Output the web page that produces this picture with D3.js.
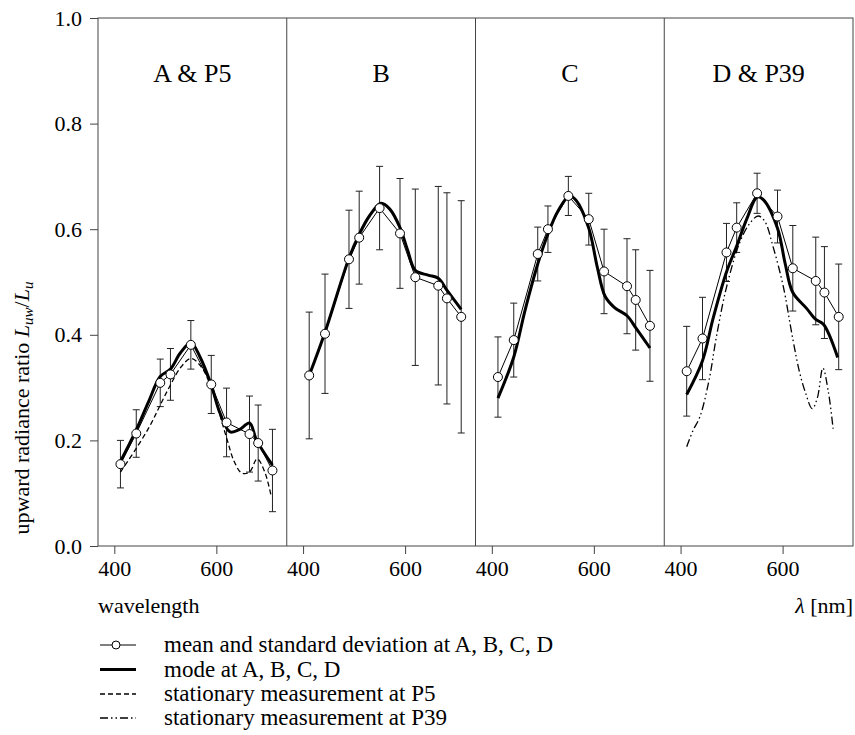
<!DOCTYPE html>
<html><head><meta charset="utf-8">
<script src="https://cdn.jsdelivr.net/npm/d3@7"></script>
<style>body{margin:0;background:#fff}</style>
</head><body><svg id="c" width="855" height="735"></svg>
<script>
// ---------- data ----------
const panels = ["A & P5", "B", "C", "D & P39"];
const wavelengths = [412, 443, 490, 510, 550, 590, 620, 665, 682, 710];
const yTicks = [0, 0.2, 0.4, 0.6, 0.8, 1.0];
const xTicks = [400, 600];

const meanA = [0.155, 0.213, 0.309, 0.325, 0.381, 0.306, 0.234, 0.212, 0.195, 0.143];
const sdA   = [0.045, 0.045, 0.045, 0.049, 0.046, 0.055, 0.065, 0.072, 0.072, 0.078];
const meanB = [0.323, 0.402, 0.543, 0.584, 0.640, 0.592, 0.509, 0.493, 0.469, 0.434];
const sdB   = [0.120, 0.113, 0.093, 0.088, 0.079, 0.104, 0.167, 0.188, 0.200, 0.220];
const meanC = [0.320, 0.390, 0.553, 0.600, 0.663, 0.619, 0.520, 0.492, 0.466, 0.417];
const sdC   = [0.076, 0.070, 0.051, 0.044, 0.037, 0.049, 0.080, 0.090, 0.095, 0.105];
const meanD = [0.331, 0.393, 0.556, 0.603, 0.668, 0.624, 0.526, 0.502, 0.480, 0.434];
const sdD   = [0.085, 0.078, 0.055, 0.047, 0.038, 0.050, 0.081, 0.083, 0.087, 0.100];

const modeWlA = [412, 443, 467, 490, 510, 529, 550, 568, 590, 607, 627, 646, 665, 679, 710];
const modeA   = [0.160, 0.220, 0.273, 0.321, 0.335, 0.365, 0.385, 0.358, 0.305, 0.252, 0.216, 0.221, 0.233, 0.200, 0.153];
const modeWlB = [412, 443, 490, 510, 530, 553, 570, 590, 605, 620, 645, 665, 683, 710];
const modeB   = [0.323, 0.405, 0.545, 0.590, 0.625, 0.649, 0.638, 0.603, 0.560, 0.522, 0.513, 0.507, 0.483, 0.448];
const modeWlC = [412, 443, 465, 490, 510, 530, 552, 565, 590, 607, 622, 640, 665, 683, 710];
const modeC   = [0.280, 0.358, 0.446, 0.534, 0.591, 0.635, 0.663, 0.655, 0.602, 0.527, 0.473, 0.452, 0.436, 0.412, 0.375];
const modeWlD = [412, 443, 464, 490, 510, 530, 550, 562, 590, 605, 620, 647, 665, 680, 708];
const modeD   = [0.287, 0.351, 0.432, 0.519, 0.568, 0.620, 0.661, 0.656, 0.602, 0.535, 0.480, 0.450, 0.429, 0.420, 0.357];

const p5Wl = [412, 443, 470, 490, 510, 530, 550, 570, 590, 620, 635, 650, 665, 680, 695, 708];
const p5   = [0.140, 0.185, 0.228, 0.267, 0.305, 0.338, 0.355, 0.340, 0.300, 0.205, 0.160, 0.138, 0.140, 0.165, 0.140, 0.092];
const p39Wl = [412, 425, 438, 456, 470, 490, 516, 535, 552, 565, 581, 601, 620, 633, 645, 658, 668, 679, 690, 699];
const p39   = [0.188, 0.220, 0.245, 0.315, 0.395, 0.490, 0.575, 0.610, 0.625, 0.615, 0.568, 0.493, 0.392, 0.330, 0.290, 0.260, 0.280, 0.337, 0.290, 0.222];

const legendLabels = [
  "mean and standard deviation at A, B, C, D",
  "mode at A, B, C, D",
  "stationary measurement at P5",
  "stationary measurement at P39"
];

// ---------- layout ----------
const font = "'Liberation Serif','Times New Roman',serif";
const svg = d3.select("#c");
const L = 98, R = 853, T = 18, B = 546, pw = (R - L) / 4;
const axisCol = "#444";
const y = d3.scaleLinear().domain([0, 1]).range([B, T]);
const xs = panels.map((p, i) => d3.scaleLinear().domain([368, 738]).range([L + i * pw, L + (i + 1) * pw]));

const zip = (w, v) => w.map((d, i) => ({w: d, v: v[i]}));
const series = [
  {mean: meanA, sd: sdA, mode: zip(modeWlA, modeA), extra: zip(p5Wl, p5), dash: "5,3"},
  {mean: meanB, sd: sdB, mode: zip(modeWlB, modeB)},
  {mean: meanC, sd: sdC, mode: zip(modeWlC, modeC)},
  {mean: meanD, sd: sdD, mode: zip(modeWlD, modeD), extra: zip(p39Wl, p39), dash: "8,3,1.5,3,1.5,3"}
];

// frame
svg.append("rect").attr("x", L).attr("y", T).attr("width", R - L).attr("height", B - T)
  .attr("fill", "none").attr("stroke", axisCol).attr("stroke-width", 1);
for (let i = 1; i < 4; i++) {
  svg.append("line").attr("x1", L + i * pw).attr("x2", L + i * pw).attr("y1", T).attr("y2", B)
    .attr("stroke", axisCol).attr("stroke-width", 1);
}

// y axis
const gy = svg.append("g").attr("transform", `translate(${L},0)`)
  .call(d3.axisLeft(y).tickValues(yTicks).tickFormat(d3.format(".1f")).tickSize(8).tickPadding(8));
gy.select(".domain").remove();
gy.selectAll("line").attr("stroke", axisCol);
gy.selectAll("text").attr("font-family", font).attr("font-size", 22).attr("fill", "#000");

// panels
panels.forEach((name, i) => {
  const x = xs[i];
  const s = series[i];
  const gx = svg.append("g").attr("transform", `translate(0,${B})`)
    .call(d3.axisBottom(x).tickValues(xTicks).tickSize(8).tickPadding(6));
  gx.select(".domain").remove();
  gx.selectAll("line").attr("stroke", axisCol);
  gx.selectAll("text").attr("font-family", font).attr("font-size", 22).attr("fill", "#000");

  svg.append("text").attr("x", (x.range()[0] + x.range()[1]) / 2).attr("y", 82)
    .attr("text-anchor", "middle").attr("font-family", font).attr("font-size", 26).text(name);

  const g = svg.append("g");
  const pts = wavelengths.map((w, k) => ({w, m: s.mean[k], sd: s.sd[k]}));
  // error bars
  const eb = g.selectAll(".eb").data(pts).enter().append("g");
  eb.append("line").attr("x1", d => x(d.w)).attr("x2", d => x(d.w))
    .attr("y1", d => y(d.m + d.sd)).attr("y2", d => y(d.m - d.sd))
    .attr("stroke", "#222").attr("stroke-width", 1);
  [1, -1].forEach(sg => {
    eb.append("line").attr("x1", d => x(d.w) - 3.5).attr("x2", d => x(d.w) + 3.5)
      .attr("y1", d => y(d.m + sg * d.sd)).attr("y2", d => y(d.m + sg * d.sd))
      .attr("stroke", "#222").attr("stroke-width", 1);
  });

  const curve = d3.line().x(d => x(d.w)).y(d => y(d.v)).curve(d3.curveCatmullRom.alpha(0.5));
  if (s.extra) {
    g.append("path").attr("d", curve(s.extra)).attr("fill", "none").attr("stroke", "#000")
      .attr("stroke-width", 1.3).attr("stroke-dasharray", s.dash);
  }
  g.append("path").attr("d", curve(s.mode)).attr("fill", "none").attr("stroke", "#000")
    .attr("stroke-width", 3).attr("stroke-linejoin", "round");
  const lin = d3.line().x(d => x(d.w)).y(d => y(d.m));
  g.append("path").attr("d", lin(pts)).attr("fill", "none").attr("stroke", "#000").attr("stroke-width", 1);
  g.selectAll("circle").data(pts).enter().append("circle")
    .attr("cx", d => x(d.w)).attr("cy", d => y(d.m)).attr("r", 4.5)
    .attr("fill", "#fff").attr("stroke", "#000").attr("stroke-width", 1);
});

// axis titles
svg.append("text").attr("x", L).attr("y", 613).attr("font-family", font).attr("font-size", 22).text("wavelength");
const lt = svg.append("text").attr("x", R).attr("y", 613).attr("text-anchor", "end")
  .attr("font-family", font).attr("font-size", 22);
lt.append("tspan").attr("font-style", "italic").text("λ");
lt.append("tspan").text(" [nm]");

const yt = svg.append("text").attr("transform", "translate(29,408) rotate(-90)")
  .attr("text-anchor", "middle").attr("font-family", font).attr("font-size", 22);
yt.append("tspan").text("upward radiance ratio ");
yt.append("tspan").attr("font-style", "italic").text("L");
yt.append("tspan").attr("font-style", "italic").attr("font-size", 15).attr("dy", 4).text("uw");
yt.append("tspan").attr("dy", -4).text("/");
yt.append("tspan").attr("font-style", "italic").text("L");
yt.append("tspan").attr("font-style", "italic").attr("font-size", 15).attr("dy", 4).text("u");

// legend
const legY = [645, 669.5, 694, 718];
const lx0 = 100, lx1 = 136, ltx = 164;
legendLabels.forEach((lab, i) => {
  const yy = legY[i];
  const ln = svg.append("line").attr("x1", lx0).attr("x2", lx1).attr("y1", yy).attr("y2", yy).attr("stroke", "#000");
  if (i === 0) {
    ln.attr("stroke-width", 1);
    svg.append("circle").attr("cx", (lx0 + lx1) / 2 - 2).attr("cy", yy).attr("r", 4)
      .attr("fill", "#fff").attr("stroke", "#000");
  } else if (i === 1) {
    ln.attr("stroke-width", 3);
  } else if (i === 2) {
    ln.attr("stroke-width", 1.3).attr("stroke-dasharray", "5,3");
  } else {
    ln.attr("stroke-width", 1.3).attr("stroke-dasharray", "8,3,1.5,3,1.5,3");
  }
  svg.append("text").attr("x", ltx).attr("y", yy + 7).attr("font-family", font).attr("font-size", 23).text(lab);
});
</script>
</body></html>
